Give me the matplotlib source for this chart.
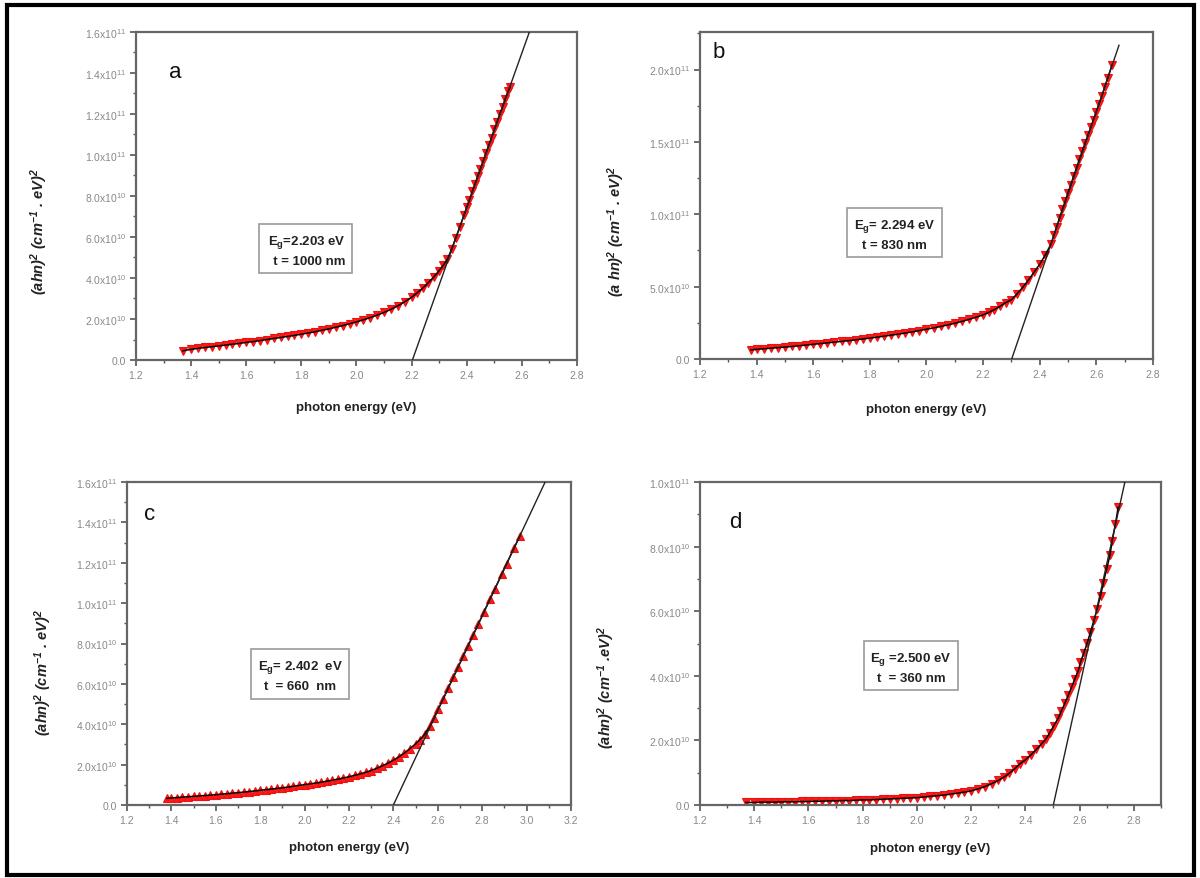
import numpy as np
import matplotlib
matplotlib.use("Agg")
import matplotlib.pyplot as plt
from matplotlib.ticker import FuncFormatter, MultipleLocator
from matplotlib.patches import Rectangle

plt.rcParams['font.family'] = ['Liberation Sans', 'DejaVu Sans']
plt.rcParams['mathtext.default'] = 'regular'

# ---- data: photon energy (eV) and (ahn)^2 in units of 1e10 ----
energy_a = [1.37, 1.40, 1.425, 1.45, 1.475, 1.50, 1.525, 1.55, 1.575, 1.60, 1.625, 1.65, 1.675, 1.70,
            1.725, 1.75, 1.775, 1.80, 1.825, 1.85, 1.875, 1.90, 1.925, 1.95, 1.975, 2.00, 2.025, 2.05,
            2.075, 2.10, 2.125, 2.15, 2.175, 2.20, 2.22, 2.24, 2.26, 2.28, 2.30, 2.315, 2.33, 2.345,
            2.36, 2.375, 2.39, 2.40, 2.41, 2.42, 2.43, 2.44, 2.45, 2.46, 2.47, 2.48, 2.49, 2.50, 2.51,
            2.52, 2.53, 2.54, 2.55, 2.557]
value_a = [0.45, 0.52, 0.57, 0.61, 0.65, 0.69, 0.73, 0.77, 0.81, 0.86, 0.90, 0.95, 1.00, 1.05,
           1.10, 1.15, 1.20, 1.26, 1.32, 1.38, 1.45, 1.52, 1.60, 1.68, 1.77, 1.86, 1.96, 2.07,
           2.19, 2.32, 2.47, 2.64, 2.84, 3.06, 3.27, 3.50, 3.76, 4.04, 4.36, 4.62, 4.92, 5.40,
           5.95, 6.50, 7.06, 7.45, 7.80, 8.22, 8.58, 8.97, 9.33, 9.72, 10.10, 10.48, 10.85, 11.25, 11.60,
           12.00, 12.35, 12.75, 13.10, 13.30]

energy_b = [1.38, 1.40, 1.425, 1.45, 1.475, 1.50, 1.525, 1.55, 1.575, 1.60, 1.625, 1.65, 1.675, 1.70,
            1.725, 1.75, 1.775, 1.80, 1.825, 1.85, 1.875, 1.90, 1.925, 1.95, 1.975, 2.00, 2.025, 2.05,
            2.075, 2.10, 2.125, 2.15, 2.175, 2.20, 2.22, 2.24, 2.26, 2.28, 2.30, 2.32, 2.34, 2.36,
            2.38, 2.40, 2.42, 2.44, 2.45, 2.46, 2.47, 2.48, 2.49, 2.50, 2.51, 2.52, 2.53, 2.54, 2.55,
            2.56, 2.57, 2.58, 2.59, 2.60, 2.61, 2.62, 2.63, 2.64, 2.655]
value_b = [0.63, 0.67, 0.71, 0.75, 0.79, 0.83, 0.87, 0.92, 0.97, 1.02, 1.07, 1.12, 1.17, 1.22,
           1.27, 1.33, 1.39, 1.45, 1.51, 1.58, 1.65, 1.72, 1.80, 1.88, 1.97, 2.06, 2.15, 2.25,
           2.36, 2.47, 2.60, 2.74, 2.89, 3.05, 3.22, 3.42, 3.64, 3.90, 4.10, 4.50, 4.95, 5.45,
           6.00, 6.55, 7.20, 7.95, 8.55, 9.15, 9.75, 10.35, 10.90, 11.50, 12.05, 12.65, 13.20, 13.80, 14.35,
           14.90, 15.45, 16.00, 16.55, 17.10, 17.65, 18.20, 18.80, 19.40, 20.30]

energy_c = [1.38, 1.40, 1.425, 1.45, 1.475, 1.50, 1.525, 1.55, 1.575, 1.60, 1.625, 1.65, 1.675, 1.70,
            1.725, 1.75, 1.775, 1.80, 1.825, 1.85, 1.875, 1.90, 1.925, 1.95, 1.975, 2.00, 2.025, 2.05,
            2.075, 2.10, 2.125, 2.15, 2.175, 2.20, 2.225, 2.25, 2.275, 2.30, 2.325, 2.35, 2.375, 2.40,
            2.425, 2.45, 2.475, 2.50, 2.52, 2.542, 2.565, 2.583, 2.602, 2.625, 2.648, 2.670, 2.693,
            2.715, 2.737, 2.760, 2.782, 2.808, 2.835, 2.858, 2.888, 2.910, 2.943, 2.970]
value_c = [0.33, 0.35, 0.37, 0.39, 0.41, 0.43, 0.45, 0.47, 0.49, 0.51, 0.54, 0.56, 0.59, 0.61,
           0.64, 0.67, 0.70, 0.73, 0.76, 0.79, 0.82, 0.85, 0.89, 0.93, 0.97, 1.01, 1.05, 1.09,
           1.13, 1.18, 1.23, 1.28, 1.34, 1.40, 1.47, 1.54, 1.62, 1.71, 1.82, 1.94, 2.07, 2.22,
           2.39, 2.58, 2.80, 3.03, 3.24, 3.52, 3.90, 4.30, 4.75, 5.27, 5.82, 6.33, 6.86,
           7.40, 7.90, 8.44, 8.95, 9.56, 10.20, 10.72, 11.44, 11.95, 12.72, 13.32]

energy_d = [1.37, 1.40, 1.425, 1.45, 1.475, 1.50, 1.525, 1.55, 1.575, 1.60, 1.625, 1.65, 1.675, 1.70,
            1.725, 1.75, 1.775, 1.80, 1.825, 1.85, 1.875, 1.90, 1.925, 1.95, 1.975, 2.00, 2.025, 2.05,
            2.075, 2.10, 2.125, 2.15, 2.175, 2.20, 2.225, 2.25, 2.275, 2.30, 2.32, 2.34, 2.36, 2.38,
            2.40, 2.42, 2.44, 2.46, 2.476, 2.490, 2.505, 2.521, 2.533, 2.546, 2.558, 2.570, 2.582,
            2.595, 2.603, 2.616, 2.628, 2.640, 2.653, 2.665, 2.677, 2.687, 2.700, 2.712, 2.720,
            2.732, 2.742]
value_d = [0.08, 0.08, 0.09, 0.09, 0.09, 0.10, 0.10, 0.10, 0.11, 0.11, 0.12, 0.12, 0.13, 0.13,
           0.14, 0.14, 0.15, 0.16, 0.16, 0.17, 0.18, 0.19, 0.20, 0.21, 0.22, 0.23, 0.25, 0.27,
           0.29, 0.31, 0.34, 0.37, 0.40, 0.44, 0.50, 0.57, 0.66, 0.76, 0.86, 0.98, 1.12, 1.28,
           1.40, 1.55, 1.72, 1.90, 2.05, 2.24, 2.46, 2.69, 2.92, 3.16, 3.40, 3.64, 3.90,
           4.16, 4.42, 4.72, 5.02, 5.36, 5.72, 6.08, 6.48, 6.86, 7.32, 7.74, 8.18,
           8.70, 9.22]

# linear extrapolation lines (x intercept, slope in 1e10 per eV, end energy)
line_start = [2.203, 2.301, 2.400, 2.503]
line_slope = [37.7, 57.2, 23.4, 37.9]
line_end = [2.63, 2.68, 3.09, 2.77]

panel_letters = ['a', 'b', 'c', 'd']
box_texts = ['E$_g$=2.203 eV\n  t = 1000 nm', 'E$_g$= 2.294 eV\nt = 830 nm',
             'E$_g$= 2.402  eV\nt  = 660  nm', 'E$_g$ =2.500 eV\nt  = 360 nm']
ylabels = ['(ahn)$^2$ (cm$^{-1}$ . eV)$^2$', '(a hn)$^2$ (cm$^{-1}$ . eV)$^2$',
           '(ahn)$^2$ (cm$^{-1}$ . eV)$^2$', '(ahn)$^2$ (cm$^{-1}$ .eV)$^2$']
xlabels = ['photon energy (eV)', 'photon energy (eV)', 'photon energy (eV)', 'photon energy (eV)']

energies = [energy_a, energy_b, energy_c, energy_d]
values = [value_a, value_b, value_c, value_d]
markers = ['v', 'v', '^', 'v']
xlims = [(1.2, 2.8), (1.2, 2.8), (1.2, 3.2), (1.2, 2.9)]
ylims = [(0, 1.6e11), (0, 2.26e11), (0, 1.6e11), (0, 1.0e11)]
ymajor = [2e10, 5e10, 2e10, 2e10]


def sci_fmt(v, pos):
    if abs(v) < 1:
        return '0.0'
    e = int(np.floor(np.log10(abs(v)) + 1e-9))
    m = v / 10 ** e
    return f'{m:.1f}x10$^{{{e}}}$'


fig = plt.figure(figsize=(12, 8.79), dpi=100)

# axes rectangles [left, bottom, width, height]
rects = [[0.1133, 0.5893, 0.3675, 0.3732],
         [0.5833, 0.5904, 0.3775, 0.3721],
         [0.1058, 0.0830, 0.3700, 0.3675],
         [0.5833, 0.0830, 0.3842, 0.3675]]
letter_pos = [(0.09, 0.88), (0.042, 0.939), (0.052, 0.901), (0.076, 0.879)]
box_pos = [(0.385, 0.335), (0.43, 0.382), (0.39, 0.402), (0.458, 0.427)]
box_align = ['right', 'center', 'center', 'center']
ylabel_pos = [(-0.195, 0.396), (-0.161, 0.394), (-0.164, 0.412), (-0.18, 0.368)]
xlabel_y = [-0.125, -0.135, -0.11, -0.115]

for i in range(4):
    ax = fig.add_axes(rects[i])
    x = np.array(energies[i])
    y = np.array(values[i]) * 1e10

    ax.plot(x, y, linestyle='none', marker=markers[i], markersize=5.5,
            color='#ff1a1a', markeredgecolor='#ee1111', markeredgewidth=0.8, zorder=2)
    ax.plot(x, y, color='black', linewidth=1.1, zorder=3)

    lx = np.array([line_start[i], line_end[i]])
    ly = (lx - line_start[i]) * line_slope[i] * 1e10
    ax.plot(lx, ly, color='#222222', linewidth=1.0, zorder=4)

    ax.set_xlim(*xlims[i])
    ax.set_ylim(*ylims[i])
    ax.xaxis.set_major_locator(MultipleLocator(0.2))
    ax.xaxis.set_minor_locator(MultipleLocator(0.1))
    ax.yaxis.set_major_locator(MultipleLocator(ymajor[i]))
    ax.yaxis.set_minor_locator(MultipleLocator(ymajor[i] / 2))
    ax.yaxis.set_major_formatter(FuncFormatter(sci_fmt))
    ax.xaxis.set_major_formatter(FuncFormatter(lambda v, p: f'{v:.1f}'))

    for s in ax.spines.values():
        s.set_color('#666666')
        s.set_linewidth(1.6)
    ax.tick_params(which='both', direction='out', color='#555555', top=False, right=False)
    ax.tick_params(which='major', length=4, width=1.2, labelsize=7.5, labelcolor='#888888', pad=3)
    ax.tick_params(which='minor', length=2.5, width=1.0)

    ax.text(letter_pos[i][0], letter_pos[i][1], panel_letters[i], transform=ax.transAxes,
            fontsize=16, ha='center', va='center', color='#111111')
    ax.text(box_pos[i][0], box_pos[i][1], box_texts[i], transform=ax.transAxes,
            fontsize=9.5, fontweight='bold', ha='center', va='center', color='#222222',
            multialignment=box_align[i], linespacing=1.5,
            bbox=dict(boxstyle='square,pad=0.5', facecolor='white', edgecolor='#999999', linewidth=1.2))

    ax.set_ylabel(ylabels[i], fontsize=10.5, fontweight='bold', fontstyle='italic', color='#222222')
    ax.yaxis.set_label_coords(*ylabel_pos[i])
    ax.set_xlabel(xlabels[i], fontsize=9.5, fontweight='bold', color='#222222')
    ax.xaxis.set_label_coords(0.5, xlabel_y[i])

# black frame round the whole picture
fig.patches.append(Rectangle((0.0058, 0.0034), 0.989, 0.9896, transform=fig.transFigure,
                             fill=False, edgecolor='black', linewidth=3))

plt.savefig('out.png', dpi=100)
